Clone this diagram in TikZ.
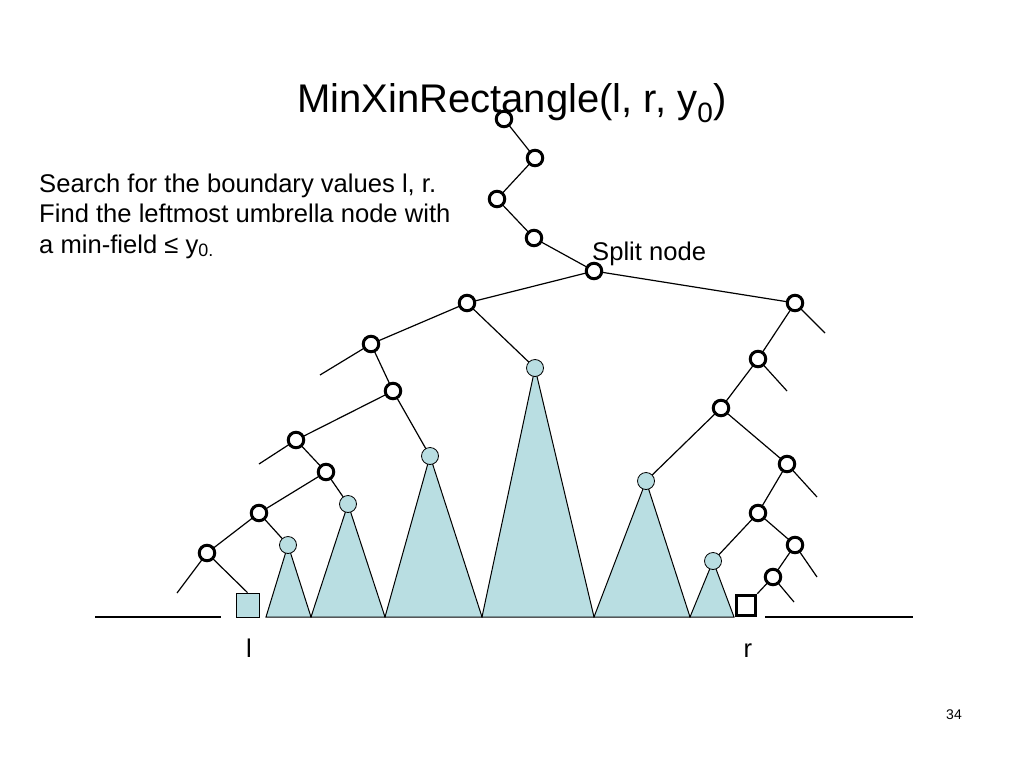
\documentclass[tikz,border=0pt]{standalone}
\usepackage{fontspec}
\setmainfont{Liberation Sans}
\usetikzlibrary{backgrounds}
\definecolor{umb}{RGB}{185,222,226}
\begin{document}
\begin{tikzpicture}[x=1pt,y=-1pt,
  onode/.style={circle,draw=black,line width=3pt,fill=white,minimum size=15.5pt,inner sep=0pt},
  tnode/.style={circle,draw=black,line width=0.8pt,fill=umb,minimum size=17pt,inner sep=0pt},
  edge/.style={line width=1.2pt,black},
  tri/.style={draw=black,line width=1pt,fill=umb,line join=miter},
  txt/.style={inner sep=0pt,font=\fontsize{25.6}{30}\selectfont},
]
\useasboundingbox (0,0) rectangle (1024,768);
% title
\node[inner sep=0pt,anchor=base,font=\fontsize{40}{48}\selectfont] (title) at (512,112) {MinXinRectangle(l, r, y\textsubscript{0})};
% text
\node[txt,anchor=base west] (t1line) at (39,192) {Search for the boundary values l, r.};
\node[txt,anchor=base west] (t2line) at (39,222.5) {Find the leftmost umbrella node with};
\node[txt,anchor=base west] (t3line) at (39,253) {a min-field ≤ y\textsubscript{0.}};
\node[txt,anchor=base west] (splitlbl) at (592,260) {Split node};
\node[txt,anchor=base] (llbl) at (249,657) {l};
\node[txt,anchor=base] (rlbl) at (748,657) {r};
\node[inner sep=0pt,anchor=base,font=\fontsize{14}{16}\selectfont] (pnum) at (954,719) {34};
% circles
\node[onode] (a1) at (504,119) {};
\node[onode] (a2) at (535,158) {};
\node[onode] (a3) at (497,199) {};
\node[onode] (a4) at (534,238) {};
\node[onode] (s) at (594,271) {};
\node[onode] (l1) at (467,303) {};
\node[onode] (r1) at (795,303) {};
\node[onode] (l2) at (371,344) {};
\node[onode] (l3) at (393,391) {};
\node[onode] (l4) at (296,440) {};
\node[onode] (l5) at (326,472) {};
\node[onode] (l6) at (259,513) {};
\node[onode] (l7) at (207,553) {};
\node[onode] (r2) at (758,359) {};
\node[onode] (r3) at (721,408) {};
\node[onode] (r4) at (787,464) {};
\node[onode] (r5) at (758,513) {};
\node[onode] (r6) at (795,545) {};
\node[onode] (r7) at (773,577) {};
% umbrella nodes
\node[tnode] (u1) at (535,368) {};
\node[tnode] (u2) at (430,456) {};
\node[tnode] (u3) at (348,504) {};
\node[tnode] (u4) at (288,545) {};
\node[tnode] (u5) at (646,481) {};
\node[tnode] (u6) at (713,561) {};
% leaves
\node[draw=black,line width=0.8pt,fill=umb,minimum width=23pt,minimum height=24pt,inner sep=0pt] (sql) at (247.5,605) {};
\node[draw=black,line width=3pt,fill=white,minimum width=19.5pt,minimum height=20.5pt,inner sep=0pt] (sqr) at (746,605.5) {};
% free ends and base points
\coordinate (fl2) at (320,375);
\coordinate (fl4) at (259,464);
\coordinate (fl7) at (177,593);
\coordinate (fr1) at (825,333);
\coordinate (fr2) at (787,391);
\coordinate (fr4) at (817,497);
\coordinate (fr6) at (817,577);
\coordinate (fr7) at (794,602);
\coordinate (bl0) at (95,617);
\coordinate (bl1) at (221,617);
\coordinate (br0) at (765,617);
\coordinate (br1) at (913,617);
\coordinate (b266) at (266,617);
\coordinate (b311) at (311,617);
\coordinate (b385) at (385,617);
\coordinate (b482) at (482,617);
\coordinate (b594) at (594,617);
\coordinate (b690) at (690,617);
\coordinate (b734) at (734,617);
\begin{scope}[on background layer]
\draw[tri] (u1.center) -- (b482) -- (b594) -- cycle;
\draw[tri] (u2.center) -- (b385) -- (b482) -- cycle;
\draw[tri] (u3.center) -- (b311) -- (b385) -- cycle;
\draw[tri] (u4.center) -- (b266) -- (b311) -- cycle;
\draw[tri] (u5.center) -- (b594) -- (b690) -- cycle;
\draw[tri] (u6.center) -- (b690) -- (b734) -- cycle;
\draw[edge] (bl0) -- (bl1);
\draw[edge] (br0) -- (br1);
\draw[edge] (a1.center) -- (a2.center) -- (a3.center) -- (a4.center) -- (s.center);
\draw[edge] (s.center) -- (l1.center);
\draw[edge] (s.center) -- (r1.center);
\draw[edge] (l1.center) -- (l2.center);
\draw[edge] (l1.center) -- (u1.center);
\draw[edge] (l2.center) -- (fl2);
\draw[edge] (l2.center) -- (l3.center);
\draw[edge] (l3.center) -- (l4.center);
\draw[edge] (l3.center) -- (u2.center);
\draw[edge] (l4.center) -- (fl4);
\draw[edge] (l4.center) -- (l5.center);
\draw[edge] (l5.center) -- (l6.center);
\draw[edge] (l5.center) -- (u3.center);
\draw[edge] (l6.center) -- (l7.center);
\draw[edge] (l6.center) -- (u4.center);
\draw[edge] (l7.center) -- (fl7);
\draw[edge] (l7.center) -- (sql.north);
\draw[edge] (r1.center) -- (fr1);
\draw[edge] (r1.center) -- (r2.center);
\draw[edge] (r2.center) -- (fr2);
\draw[edge] (r2.center) -- (r3.center);
\draw[edge] (r3.center) -- (u5.center);
\draw[edge] (r3.center) -- (r4.center);
\draw[edge] (r4.center) -- (fr4);
\draw[edge] (r4.center) -- (r5.center);
\draw[edge] (r5.center) -- (u6.center);
\draw[edge] (r5.center) -- (r6.center);
\draw[edge] (r6.center) -- (fr6);
\draw[edge] (r6.center) -- (r7.center);
\draw[edge] (r7.center) -- (fr7);
\draw[edge] (r7.center) -- (sqr.north east);
\end{scope}
\end{tikzpicture}
\end{document}
